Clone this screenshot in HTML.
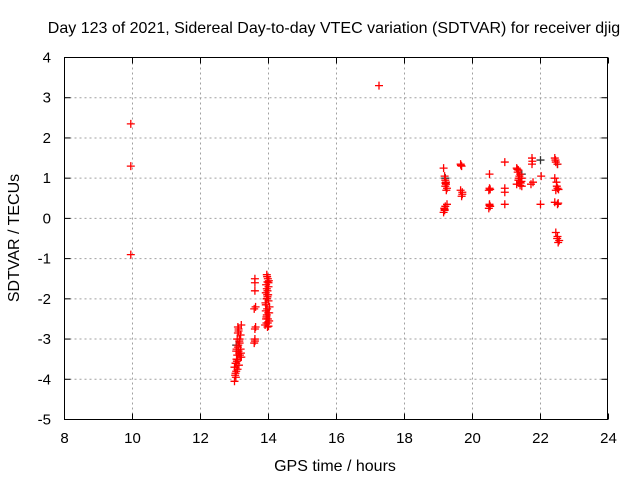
<!DOCTYPE html>
<html><head><meta charset="utf-8"><style>
body{margin:0;background:#fff;}
svg text{font-family:"Liberation Sans",sans-serif;font-size:16px;fill:#000;}
svg text.tk{font-size:15px;}
</style></head><body>
<svg id="chart" width="640" height="480">
<text x="334" y="33" text-anchor="middle">Day 123 of 2021, Sidereal Day-to-day VTEC variation (SDTVAR) for receiver djig</text>
<text x="335" y="471" text-anchor="middle">GPS time / hours</text>
<text transform="translate(19,238) rotate(-90)" text-anchor="middle">SDTVAR / TECUs</text>
<g id="grid"></g><g id="ticks"></g><g id="pts"></g>
<rect x="64.5" y="57.5" width="543" height="362" fill="none" stroke="#000" stroke-width="1"/>
</svg>
<script>
const xTicks=[8,10,12,14,16,18,20,22,24];
const yTicks=[-5,-4,-3,-2,-1,0,1,2,3,4];
const redX=[9.95,9.95,9.95,17.25,
13.0,13.02,13.05,13.05,13.1,13.08,13.12,13.1,13.15,13.15,13.18,13.12,13.1,13.2,13.05,13.2,13.0,13.07,13.14,13.18,13.03,
13.04,13.09,13.13,13.17,13.11,13.06,13.16,13.08,13.12,13.03,13.19,13.1,13.06,13.14,
13.6,13.6,13.6,13.58,13.62,13.6,13.6,13.58,13.62,13.6,
13.95,13.98,14.0,13.95,13.92,13.97,14.0,13.93,13.96,13.99,13.94,14.02,13.9,13.97,13.95,14.0,13.92,13.98,
13.96,14.01,13.93,13.97,13.99,13.91,14.03,13.95,13.98,13.94,14.0,13.96,13.92,14.02,13.97,13.93,
19.15,19.18,19.2,19.22,19.25,19.2,19.2,19.18,19.15,19.25,19.22,19.17,19.23,19.2,19.18,
19.65,19.68,19.65,19.7,19.68,19.66,19.7,
20.5,20.5,20.48,20.5,20.52,20.48,20.52,20.5,
20.95,20.95,20.95,20.95,
21.3,21.35,21.4,21.45,21.35,21.4,21.3,21.45,21.38,21.33,21.42,21.36,21.44,21.32,21.4,
21.75,21.75,21.78,21.72,21.76,
22.02,22.0,
22.42,22.45,22.5,22.42,22.48,22.5,22.45,22.42,22.5,22.45,22.5,22.55,22.52,22.47,22.44,22.52,22.49,22.53];
const redY=[2.35,1.3,-0.9,3.3,
-4.05,-3.9,-3.8,-3.6,-3.5,-3.4,-3.3,-3.2,-3.1,-3.0,-2.9,-2.75,-2.7,-2.65,-3.3,-3.45,-3.7,-3.55,-3.35,-3.25,-3.85,
-3.95,-3.75,-3.65,-3.45,-3.15,-3.5,-3.4,-3.0,-2.8,-3.6,-3.35,-2.85,-3.25,-3.05,
-1.5,-1.6,-1.8,-2.25,-2.7,-2.75,-3.0,-3.1,-2.2,-3.05,
-1.4,-1.5,-1.6,-1.75,-1.85,-1.95,-2.05,-2.15,-2.25,-2.35,-2.45,-2.55,-2.65,-2.7,-2.0,-1.7,-2.3,-2.6,
-1.45,-1.55,-1.65,-1.8,-1.9,-2.1,-2.2,-2.4,-2.5,-2.6,-2.68,-1.9,-2.15,-2.35,-1.58,-2.5,
1.25,1.05,0.95,0.85,0.75,0.8,0.3,0.2,0.15,0.35,0.9,0.25,0.7,0.88,0.22,
1.35,1.3,0.7,0.6,0.55,1.32,0.65,
1.1,0.75,0.7,0.35,0.3,0.25,0.72,0.32,
1.4,0.75,0.65,0.35,
1.25,1.2,1.1,1.0,0.95,0.9,0.85,0.8,1.05,1.15,0.88,1.0,0.92,1.22,0.82,
1.5,1.35,0.9,0.85,1.42,
1.05,0.35,
1.5,1.4,1.35,1.0,0.8,0.75,0.7,0.4,0.35,-0.35,-0.45,-0.55,-0.6,0.9,1.45,0.38,-0.5,0.72];
const blackX=[13.05,13.95,19.2,22.0,22.5,21.45];
const blackY=[-3.15,-2.0,1.0,1.45,1.35,1.1];
const X=v=>64.5+(v-8)*34;
const Y=v=>419.5-(v+5)*(362/9);
const NS='http://www.w3.org/2000/svg';
const grid=document.getElementById('grid'),ticks=document.getElementById('ticks'),pts=document.getElementById('pts');
function mk(tag,attrs,parent){const e=document.createElementNS(NS,tag);for(const k in attrs)e.setAttribute(k,attrs[k]);parent.appendChild(e);return e;}
xTicks.forEach(t=>{const x=X(t);
 if(t>8&&t<24){const g=mk('line',{x1:x,x2:x,y1:57.5,y2:419.5,stroke:'#a0a0a0','stroke-dasharray':'2,3'},grid);
 
 }
 mk('line',{x1:x,x2:x,y1:419.5,y2:413.5,stroke:'#000'},ticks);mk('line',{x1:x,x2:x,y1:57.5,y2:63.5,stroke:'#000'},ticks);
 const l=mk('text',{x:x,y:443,'text-anchor':'middle','class':'tk'},ticks);l.textContent=t;
 
 });
yTicks.forEach(t=>{const y=Y(t);
 if(t>-5&&t<4){const g=mk('line',{x1:64.5,x2:607.5,y1:y,y2:y,stroke:'#a0a0a0','stroke-dasharray':'2,3'},grid);
 
 }
 mk('line',{x1:64.5,x2:70.5,y1:y,y2:y,stroke:'#000'},ticks);mk('line',{x1:601.5,x2:607.5,y1:y,y2:y,stroke:'#000'},ticks);
 const l=mk('text',{x:51,y:y+5,'text-anchor':'end','class':'tk'},ticks);l.textContent=t;
 
 });
function plus(x,y,c){const p=mk('path',{d:`M${x-4},${y}h8M${x},${y-4}v8`,stroke:c,'stroke-width':1.3,fill:'none'},pts);return p;}
blackX.forEach((v,i)=>{const p=plus(X(v),Y(blackY[i]),'#333');
 
 });
redX.forEach((v,i)=>{const p=plus(X(v),Y(redY[i]),'#ff0000');
 
 });
</script>
</body></html>
